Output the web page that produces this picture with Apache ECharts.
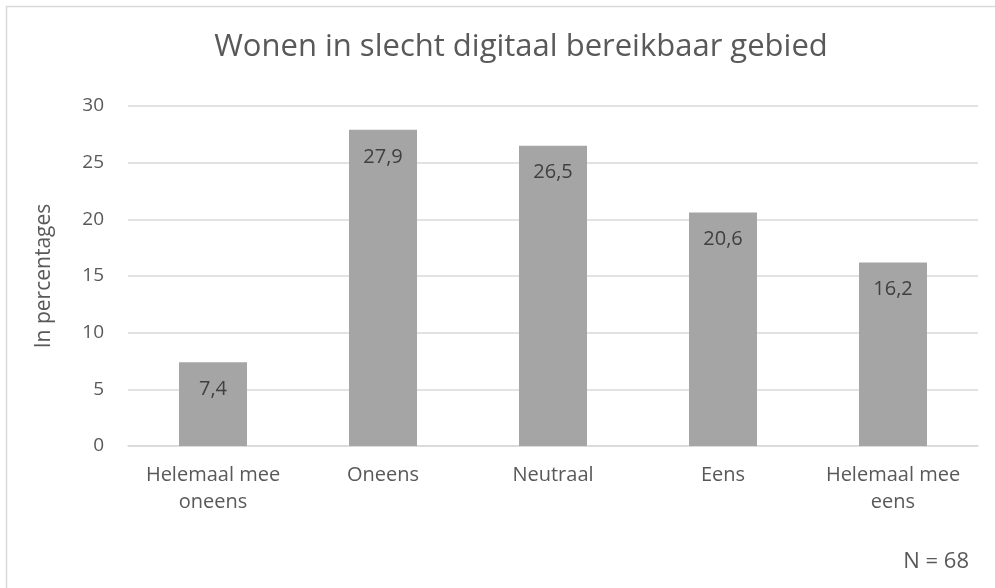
<!DOCTYPE html>
<html>
<head>
<meta charset="utf-8">
<script src="https://cdn.jsdelivr.net/npm/echarts@6/dist/echarts.min.js"></script>
<style>
	html, body {margin:0; padding:0; background:#fff;}
	#chart {width:995px; height:588px;}
</style>
</head>
<body>
<div id="chart"></div>
<script>
var categories = ["Helemaal mee\noneens", "Oneens", "Neutraal", "Eens", "Helemaal mee\neens"];
var values = [7.4, 27.9, 26.5, 20.6, 16.2];
var titleText = "Wonen in slecht digitaal bereikbaar gebied";
var axisName = "In percentages";
var noteText = "N = 68";

var font = "'Open Sans', 'Noto Sans', sans-serif";
var myChart = echarts.init(document.getElementById('chart'));
var option = {
	animation: false,
	textStyle: {fontFamily: font},
	graphic: [
		{
			type: 'rect',
			shape: {x: 6.5, y: 6.5, width: 1100, height: 700},
			style: {fill: 'none', stroke: '#d9d9d9', lineWidth: 1.5},
			silent: true
		},
		{
			type: 'text',
			right: 26,
			top: 551,
			style: {text: noteText, font: '22px ' + font, fill: '#595959'}
		}
	],
	title: {
		text: titleText,
		left: 516,
		top: 27,
		textAlign: 'center',
		textStyle: {fontSize: 31, fontWeight: 'normal', color: '#595959', fontFamily: font}
	},
	grid: {left: 128, right: 17, top: 106, bottom: 142},
	xAxis: {
		type: 'category',
		data: categories,
		axisLine: {lineStyle: {color: '#d9d9d9', width: 1.5}},
		axisTick: {show: false},
		axisLabel: {interval: 0, hideOverlap: false, color: '#595959', fontSize: 20, lineHeight: 27, margin: 16, fontFamily: font}
	},
	yAxis: {
		type: 'value',
		min: 0,
		max: 30,
		interval: 5,
		name: axisName,
		nameLocation: 'middle',
		nameGap: 73,
		nameTextStyle: {color: '#595959', fontSize: 21, fontFamily: font},
		axisLine: {show: false},
		axisTick: {show: false},
		axisLabel: {color: '#595959', fontSize: 19, margin: 24, fontFamily: font},
		splitLine: {lineStyle: {color: '#d9d9d9', width: 1.5}}
	},
	series: [{
		type: 'bar',
		data: values,
		barWidth: '40%',
		itemStyle: {color: '#a5a5a5'},
		label: {
			show: true,
			position: 'insideTop',
			distance: 17,
			color: '#404040',
			fontSize: 20,
			fontFamily: font,
			formatter: function(p){ return String(p.value).replace('.', ','); }
		}
	}]
};
myChart.setOption(option);
</script>
</body>
</html>
